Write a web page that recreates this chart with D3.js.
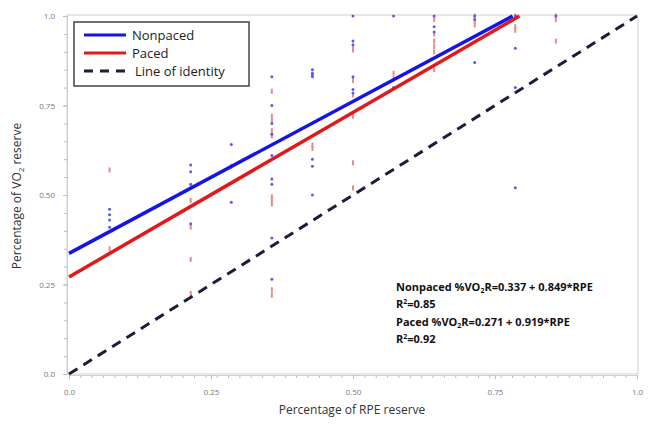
<!DOCTYPE html>
<html><head><meta charset="utf-8">
<script src="https://cdn.jsdelivr.net/npm/d3@7"></script>
<style>body{margin:0;background:#fff}svg{display:block}</style>
</head><body>
<script>
// ---- data ----
const rpeLevels = [1/14, 3/14, 4/14, 5/14, 6/14, 7/14, 8/14, 9/14, 10/14, 11/14, 12/14];
const nonpacedValues = [
  [0.46, 0.445, 0.43, 0.41],
  [0.584, 0.565, 0.53, 0.42],
  [0.641, 0.48],
  [0.83, 0.75, 0.70, 0.67, 0.61, 0.545, 0.53, 0.38, 0.265],
  [0.85, 0.84, 0.835, 0.83, 0.60, 0.58, 0.50],
  [1.0, 0.93, 0.92, 0.83, 0.795, 0.785],
  [1.0, 0.80],
  [1.0, 0.97, 0.955],
  [1.0, 0.99, 0.87],
  [1.0, 0.91, 0.80, 0.52],
  [1.0]
];
const pacedValues = [
  [0.57, 0.35],
  [0.525, 0.485, 0.41, 0.32, 0.225],
  [0.58],
  [0.79, 0.72, 0.71, 0.68, 0.665, 0.495, 0.485, 0.475, 0.235, 0.22],
  [0.64, 0.63],
  [0.913, 0.905, 0.82, 0.78, 0.72, 0.59, 0.52],
  [0.84, 0.825],
  [0.99, 0.95, 0.93, 0.915, 0.90, 0.85],
  [1.0, 0.985, 0.975],
  [1.0, 0.97, 0.96],
  [1.0, 0.99, 0.93]
];
const nonpacedLine = [[0, 0.337], [0.781, 1.0]];
const pacedLine = [[0, 0.271], [0.793, 1.0]];
const identityLine = [[0, 0], [1, 1]];
const xTickLabels = ["0.0", "0.25", "0.50", "0.75", "1.0"];
const yTickLabels = ["0.0", "0.25", "0.50", "0.75", "1.0"];
const tickValues = [0, 0.25, 0.5, 0.75, 1.0];
const legendLabels = ["Nonpaced", "Paced", "Line of identity"];

// ---- chart ----
const W = 651, H = 425;
const svg = d3.select("body").append("svg").attr("width", W).attr("height", H);
const x = d3.scaleLinear().domain([0, 1]).range([69, 637]);
const y = d3.scaleLinear().domain([0, 1]).range([374, 16]);

// frame (top/right light border)
svg.append("rect").attr("x", 67).attr("y", 15).attr("width", 637 - 67 + 1).attr("height", 374 - 15)
  .attr("fill", "none").attr("stroke", "#cfcfcf").attr("stroke-width", 1);

// minor ticks x
const gx = svg.append("g").attr("transform", "translate(0,375)");
gx.call(d3.axisBottom(x).tickValues(d3.range(0, 1.0001, 0.02)).tickSize(3).tickFormat(""));
const gx2 = svg.append("g").attr("transform", "translate(0,375)");
gx2.call(d3.axisBottom(x).tickValues(tickValues).tickSize(4).tickPadding(10)
  .tickFormat((d, i) => xTickLabels[i]));
[gx, gx2].forEach(g => {
  g.select(".domain").attr("stroke", "#cfcfcf");
  g.selectAll(".tick line").attr("stroke", "#bbb");
  g.selectAll("text").attr("fill", "#777").style("font", "8px 'Open Sans', sans-serif");
});

const gy = svg.append("g").attr("transform", "translate(67,0)");
gy.call(d3.axisLeft(y).tickValues(d3.range(0, 1.0001, 0.05)).tickSize(3).tickFormat(""));
const gy2 = svg.append("g").attr("transform", "translate(67,0)");
gy2.call(d3.axisLeft(y).tickValues(tickValues).tickSize(4).tickPadding(8)
  .tickFormat((d, i) => yTickLabels[i]));
[gy, gy2].forEach(g => {
  g.select(".domain").attr("stroke", "#cfcfcf");
  g.selectAll(".tick line").attr("stroke", "#bbb");
  g.selectAll("text").attr("fill", "#777").style("font", "8px 'Open Sans', sans-serif");
});

// points
const ptsN = [], ptsP = [];
rpeLevels.forEach((r, i) => {
  nonpacedValues[i].forEach(v => ptsN.push([r, v]));
  pacedValues[i].forEach(v => ptsP.push([r, v]));
});
svg.append("g").selectAll("rect").data(ptsP).join("rect")
  .attr("x", d => x(d[0]) - 1).attr("y", d => y(d[1]) - 2.5)
  .attr("width", 2).attr("height", 5).attr("fill", "#e98b8b");
svg.append("g").selectAll("circle").data(ptsN).join("circle")
  .attr("cx", d => x(d[0])).attr("cy", d => y(d[1])).attr("r", 1.5)
  .attr("fill", "#5b5bea");

// lines
const line = d3.line().x(d => x(d[0])).y(d => y(d[1]));
svg.append("path").datum(identityLine).attr("d", line).attr("fill", "none")
  .attr("stroke", "#1c1c3c").attr("stroke-width", 3).attr("stroke-dasharray", "10,7");
svg.append("path").datum(pacedLine).attr("d", line).attr("fill", "none")
  .attr("stroke", "#e01a1a").attr("stroke-width", 3.5);
svg.append("path").datum(nonpacedLine).attr("d", line).attr("fill", "none")
  .attr("stroke", "#1414e6").attr("stroke-width", 3.5);

// legend
const lg = svg.append("g");
lg.append("rect").attr("x", 74).attr("y", 22).attr("width", 175).attr("height", 64)
  .attr("fill", "#fff").attr("stroke", "#444").attr("stroke-width", 1.5);
const legColors = ["#1414e6", "#e01a1a", "#1c1c3c"];
const legY = [35, 53, 71];
legendLabels.forEach((t, i) => {
  lg.append("line").attr("x1", 84).attr("x2", 126).attr("y1", legY[i]).attr("y2", legY[i])
    .attr("stroke", legColors[i]).attr("stroke-width", i === 2 ? 3 : 3)
    .attr("stroke-dasharray", i === 2 ? "9,7" : null);
  lg.append("text").attr("x", i === 2 ? 135 : 132).attr("y", legY[i] + 4.5)
    .attr("fill", "#222").style("font", "13px 'Open Sans', sans-serif").text(t);
});

// annotation
const ann = svg.append("g").style("font", "bold 11px 'Open Sans', sans-serif").attr("fill", "#111");
function eqText(yy, prefix, rest) {
  const t = ann.append("text").attr("x", 396).attr("y", yy);
  t.append("tspan").text(prefix + " %VO");
  t.append("tspan").attr("font-size", "7px").attr("dy", 2).text("2");
  t.append("tspan").attr("dy", -2).text("R=" + rest);
}
function r2Text(yy, val) {
  const t = ann.append("text").attr("x", 396).attr("y", yy);
  t.append("tspan").text("R");
  t.append("tspan").attr("font-size", "7px").attr("dy", -4).text("2");
  t.append("tspan").attr("dy", 4).text("=" + val);
}
eqText(291, "Nonpaced", "0.337 + 0.849*RPE");
r2Text(308, "0.85");
eqText(326, "Paced", "0.271 + 0.919*RPE");
r2Text(343, "0.92");

// axis titles
svg.append("text").attr("x", 352).attr("y", 414).attr("text-anchor", "middle")
  .attr("fill", "#333").style("font", "12px 'Open Sans', sans-serif").text("Percentage of RPE reserve");
const yt = svg.append("text").attr("transform", "translate(21,196) rotate(-90)").attr("text-anchor", "middle")
  .attr("fill", "#333").style("font", "12px 'Open Sans', sans-serif");
yt.append("tspan").text("Percentage of VO");
yt.append("tspan").attr("font-size", "8px").attr("dy", 3).text("2");
yt.append("tspan").attr("dy", -3).text(" reserve");
</script>
</body></html>
